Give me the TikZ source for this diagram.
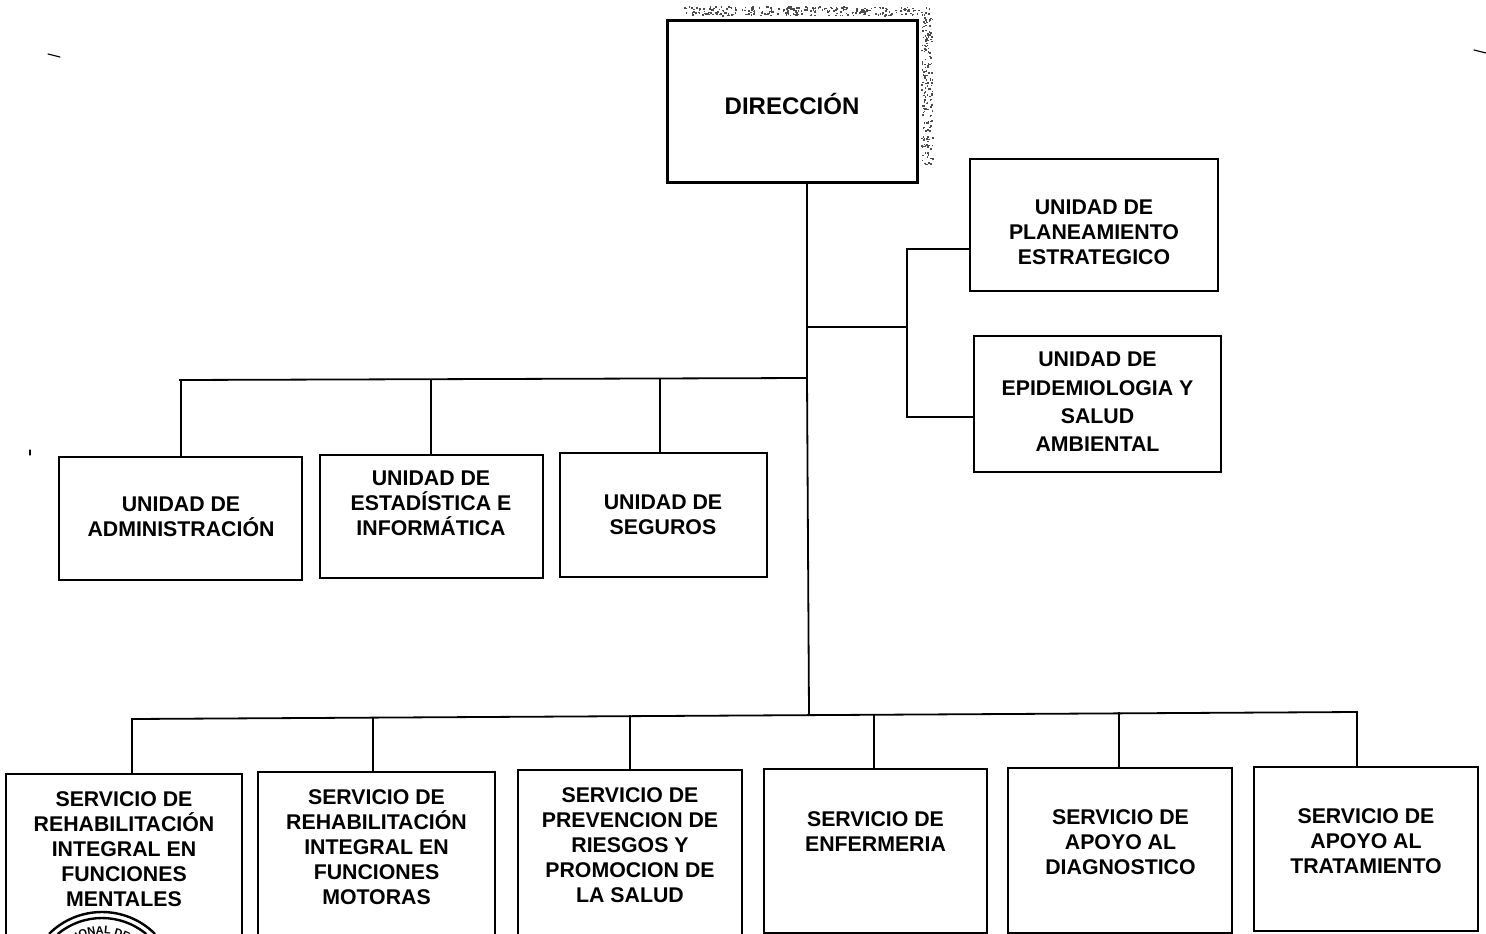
\documentclass[tikz,border=0pt]{standalone}
\usepackage{fontspec}
\setmainfont{Liberation Sans}
\usetikzlibrary{decorations.text}
\tikzset{
  x=1pt,y=-1pt,
  box/.style={draw=black,line width=1.8pt,fill=white,inner sep=0pt,outer sep=0pt},
  bigbox/.style={box,line width=3pt},
  lbl/.style={font=\fontsize{21.3}{25}\selectfont\bfseries,align=center,text=black,inner sep=0pt},
  lblwide/.style={lbl,font=\fontsize{21.3}{28.3}\selectfont\bfseries},
  lbltitle/.style={lbl,font=\fontsize{24}{28}\selectfont\bfseries},
  conn/.style={draw=black,line width=1.8pt,line cap=rect},
  speck/.style={draw=black,line width=1.2pt,line cap=round},
  seal/.style={draw=black,line width=2.4pt},
}
\begin{document}
\begin{tikzpicture}
\useasboundingbox (0,0) rectangle (1486,934);
\clip (0,0) rectangle (1486,934);
\fill[white] (0,0) rectangle (1486,934);
% scan noise round the top box
\pgfmathsetseed{7}
\foreach \i in {1,...,260}{
  \pgfmathsetmacro{\nx}{684+rnd*248}
  \pgfmathsetmacro{\ny}{6+rnd*9}
  \fill[black!70] (\nx,\ny) rectangle ++(1.6,1.6);
}
\foreach \i in {1,...,170}{
  \pgfmathsetmacro{\nx}{921+rnd*11}
  \pgfmathsetmacro{\ny}{16+rnd*148}
  \fill[black!70] (\nx,\ny) rectangle ++(1.6,1.6);
}
% boxes
\node[bigbox,minimum width=250pt,minimum height=161pt] (dir) at (792,101.5) {};
\node[box,minimum width=248pt,minimum height=132pt] (plan) at (1094,225) {};
\node[box,minimum width=247pt,minimum height=136pt] (epi) at (1097.5,404) {};
\node[box,minimum width=243pt,minimum height=123pt] (adm) at (180.5,518.5) {};
\node[box,minimum width=223pt,minimum height=123pt] (est) at (431.5,516.5) {};
\node[box,minimum width=207pt,minimum height=124pt] (seg) at (663.5,515) {};
\node[box,minimum width=236pt,minimum height=180pt] (s1) at (124,864) {};
\node[box,minimum width=237pt,minimum height=180pt] (s2) at (376.5,862) {};
\node[box,minimum width=224pt,minimum height=180pt] (s3) at (630,860) {};
\node[box,minimum width=223pt,minimum height=164pt] (s4) at (875.5,851) {};
\node[box,minimum width=224pt,minimum height=165pt] (s5) at (1120,850.5) {};
\node[box,minimum width=224pt,minimum height=164pt] (s6) at (1366,849) {};
% junctions
\coordinate (jr) at (807,327);
\coordinate (jrb) at (907,327);
\coordinate (jl) at (807,378);
\coordinate (jb) at (809,714);
\coordinate (jlf) at (180,380);
\coordinate (b1) at (132,719);
\coordinate (b6) at (1357,712);
\coordinate (jp) at (907,249);
\coordinate (je) at (907,417);
\coordinate (d1) at (181,380);
\coordinate (d2) at (431,379.5);
\coordinate (d3) at (660,379);
\coordinate (e2) at (373,718);
\coordinate (e3) at (630,716);
\coordinate (e4) at (874,714.5);
\coordinate (e5) at (1119,713);
% connectors
\draw[conn] (jr |- dir.south) -- (jr) -- (jl) -- (jb);
\draw[conn] (jr) -- (jrb);
\draw[conn] (plan.west |- jp) -- (jp) -- (jrb) -- (je) -- (epi.west |- je);
\draw[conn] (jlf) -- (jl);
\draw[conn] (d1) -- (d1 |- adm.north);
\draw[conn] (d2) -- (d2 |- est.north);
\draw[conn] (d3) -- (d3 |- seg.north);
\draw[conn] (b1) -- (b6);
\draw[conn] (b1) -- (b1 |- s1.north);
\draw[conn] (e2) -- (e2 |- s2.north);
\draw[conn] (e3) -- (e3 |- s3.north);
\draw[conn] (e4) -- (e4 |- s4.north);
\draw[conn] (e5) -- (e5 |- s5.north);
\draw[conn] (b6) -- (b6 |- s6.north);
% labels
\node[lbltitle] (tdir) at (792,103.5) {DIRECCIÓN};
\node[lbl] (tplan) at (1094,232) {UNIDAD DE\\PLANEAMIENTO\\ESTRATEGICO};
\node[lblwide] (tepi) at (1097.5,402) {UNIDAD DE\\EPIDEMIOLOGIA Y\\SALUD\\AMBIENTAL};
\node[lbl] (tadm) at (181,517) {UNIDAD DE\\ADMINISTRACIÓN};
\node[lbl] (test) at (431,503) {UNIDAD DE\\ESTADÍSTICA E\\INFORMÁTICA};
\node[lbl] (tseg) at (663,515) {UNIDAD DE\\SEGUROS};
\node[lbl] (ts1) at (124,849) {SERVICIO DE\\REHABILITACIÓN\\INTEGRAL EN\\FUNCIONES\\MENTALES};
\node[lbl] (ts2) at (376.5,847) {SERVICIO DE\\REHABILITACIÓN\\INTEGRAL EN\\FUNCIONES\\MOTORAS};
\node[lbl] (ts3) at (630,845) {SERVICIO DE\\PREVENCION DE\\RIESGOS Y\\PROMOCION DE\\LA SALUD};
\node[lbl] (ts4) at (875.5,832) {SERVICIO DE\\ENFERMERIA};
\node[lbl] (ts5) at (1120.5,842) {SERVICIO DE\\APOYO AL\\DIAGNOSTICO};
\node[lbl] (ts6) at (1366,841) {SERVICIO DE\\APOYO AL\\TRATAMIENTO};
% stamp
\coordinate (sc) at (102,987);
\draw[seal] (sc) ++(-135:75) arc[start angle=-135,end angle=-45,radius=75];
\draw[seal] (sc) ++(-130:69) arc[start angle=-130,end angle=-50,radius=69];
\path[decorate,decoration={text along path,text align=center,
  text={|\fontsize{11}{11}\selectfont\bfseries|CIONAL DEL}}]
  (sc) ++(-165:53) arc[start angle=-165,end angle=-15,radius=53];
% specks
\draw[speck] (48,54) -- (60,57);
\draw[speck] (1474,50) -- (1486,53);
\draw[speck] (30,450) -- (30,455);
\end{tikzpicture}
\end{document}
